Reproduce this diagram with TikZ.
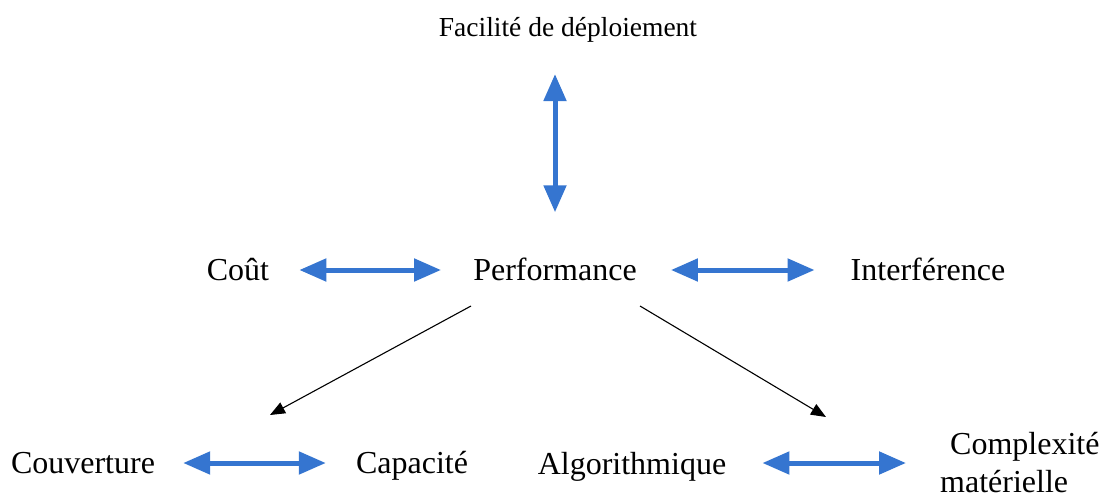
\documentclass[tikz,border=0pt]{standalone}
\usepackage{fontspec}
\setmainfont{Liberation Serif}
\usetikzlibrary{arrows.meta}
\definecolor{linkblue}{HTML}{3575D0}
\tikzset{
  lbl/.style={anchor=base, inner sep=0pt, font=\fontsize{32}{35}\selectfont},
  small/.style={anchor=base, inner sep=0pt, font=\fontsize{27.5}{31}\selectfont},
  twoway/.style={draw=linkblue, line width=5pt,
    {Triangle[length=27pt,width=22pt]}-{Triangle[length=27pt,width=22pt]}},
  oneway/.style={draw=black, line width=1.1pt, -{Triangle[length=15pt,width=12pt]}}
}
\begin{document}
\begin{tikzpicture}[x=1pt,y=-1pt]
\useasboundingbox (0,0) rectangle (1107,500);

% labels
\node[small] (ease) at (568,37) {Facilité de déploiement};
\node[lbl] (cost) at (238,280) {Coût};
\node[lbl] (perf) at (555,280) {Performance};
\node[lbl] (intf) at (928,280) {Interférence};
\node[lbl] (cover) at (83,473) {Couverture};
\node[lbl] (capa) at (412,473) {Capacité};
\node[lbl] (algo) at (632,474) {Algorithmique};
\node[lbl, anchor=north west, align=left, font=\fontsize{32}{38}\selectfont]
  (hw) at (940,432) {\hspace*{10pt}Complexité\\matérielle};

% two-way trade-offs
\draw[twoway, shorten <=31pt, shorten >=45pt] (perf.north |- ease.south) -- (perf.north);
\draw[twoway, shorten <=30pt, shorten >=32pt] ([yshift=10pt]cost.base east) -- ([yshift=10pt]perf.base west);
\draw[twoway, shorten <=34pt, shorten >=36pt] ([yshift=10pt]perf.base east) -- ([yshift=10pt]intf.base west);
\draw[twoway, shorten <=28pt, shorten >=30pt] ([yshift=10pt]cover.base east) -- ([yshift=10pt]capa.base west);
\draw[twoway, shorten <=36pt, shorten >=34pt] ([yshift=11pt]algo.base east) -- ([yshift=11pt]algo.base east -| hw.west);

% split towards the two pairs
\coordinate (pl) at (471,306);
\coordinate (pr) at (640,306);
\coordinate (tl) at (270,415);
\coordinate (tr) at (826,417);
\draw[oneway] (pl) -- (tl);
\draw[oneway] (pr) -- (tr);
\end{tikzpicture}
\end{document}
